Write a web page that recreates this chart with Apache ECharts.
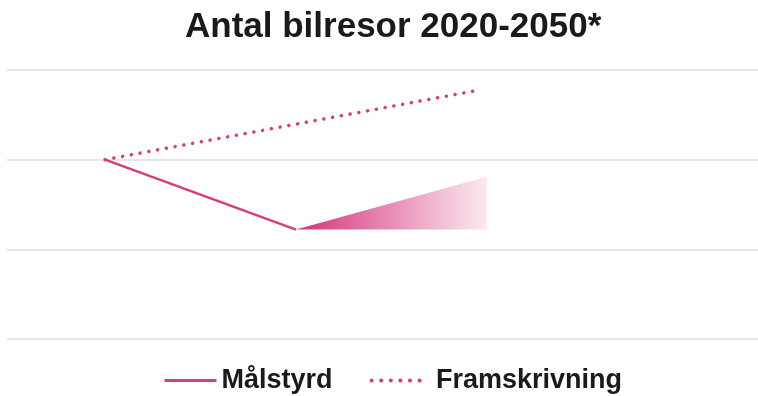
<!DOCTYPE html>
<html><head><meta charset="utf-8">
<script src="https://cdn.jsdelivr.net/npm/echarts@6/dist/echarts.min.js"></script>
<style>html,body{margin:0;padding:0;background:#fff}#c{width:758px;height:396px}</style>
</head><body><div id="c"></div>
<script>
const titleText = 'Antal bilresor 2020-2050*';
const seriesNames = ['Målstyrd', 'Framskrivning'];
const malstyrdYears = [2020, 2035];
const malstyrdValues = [2.0, 1.22];
const fanYears = [2035, 2050];
const fanValues = [1.22, 1.81];
const framYears = [2020, 2049.55];
const framValues = [2.0, 2.78];
const yTicks = [0, 1, 2, 3];

const pink = '#d83c7c';
const zip = (xs, ys) => xs.map((x, i) => [x, ys[i]]);

const chart = echarts.init(document.getElementById('c'));
chart.setOption({
  animation: false,
  title: {
    text: titleText, left: 180, top: 5,
    textStyle: { fontFamily: 'Liberation Sans', fontWeight: 'bold', fontSize: 35, color: '#1a1a1a' }
  },
  legend: {
    data: [
      { name: seriesNames[0], lineStyle: { width: 3 } },
      { name: seriesNames[1], lineStyle: { width: 4, type: [0.1, 9.5], cap: 'round' } }
    ],
    formatter: n => n === seriesNames[1] ? ' ' + n : n,
    bottom: -3, left: 158, itemWidth: 52, itemHeight: 14, itemGap: 37,
    itemStyle: { opacity: 0 },
    textStyle: { fontFamily: 'Liberation Sans', fontWeight: 'bold', fontSize: 27, color: '#1a1a1a' }
  },
  grid: { left: 7, right: 0, top: 70, bottom: 57 },
  xAxis: { type: 'value', min: 2012.3, max: 2071.3, show: false },
  yAxis: {
    type: 'value', min: yTicks[0], max: yTicks[yTicks.length - 1], interval: 1,
    axisLabel: { show: false }, axisLine: { show: false }, axisTick: { show: false },
    splitLine: { lineStyle: { color: '#e6e6e6', width: 2 } }
  },
  series: [
    {
      name: seriesNames[0], type: 'line', data: zip(malstyrdYears, malstyrdValues),
      symbol: 'none', lineStyle: { color: pink, width: 2.5 }, itemStyle: { color: pink }
    },
    {
      name: 'fan', type: 'line', data: zip(fanYears, fanValues), symbol: 'none',
      lineStyle: { width: 0 },
      areaStyle: {
        origin: fanValues[0], opacity: 1,
        color: new echarts.graphic.LinearGradient(0, 0, 1, 0, [
          { offset: 0, color: 'rgba(214,50,120,1)' },
          { offset: 1, color: 'rgba(214,50,120,0.1)' }
        ])
      }
    },
    {
      name: seriesNames[1], type: 'line', data: zip(framYears, framValues),
      symbol: 'none', itemStyle: { color: pink },
      lineStyle: { color: pink, width: 3.5, type: [0.1, 8.8], cap: 'round' }
    }
  ]
});
</script></body></html>
